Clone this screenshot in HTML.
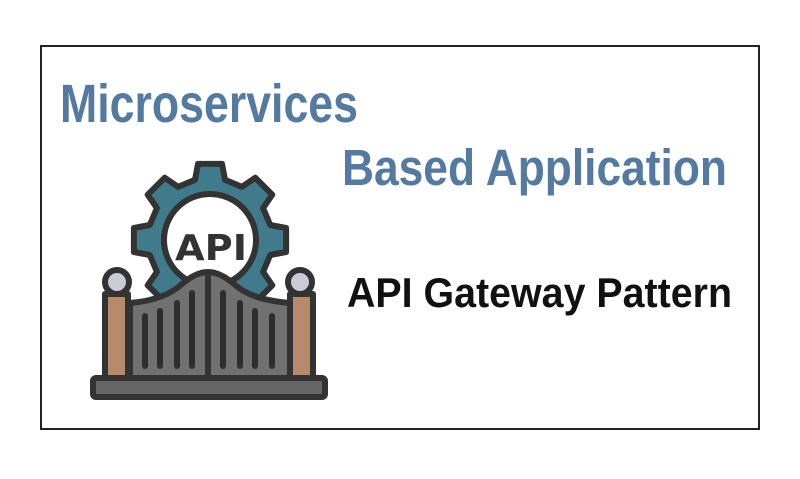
<!DOCTYPE html>
<html><head><style>
html,body{margin:0;padding:0;background:#fff;width:800px;height:479px;overflow:hidden}
</style></head><body>
<svg width="800" height="479" viewBox="0 0 800 479" xmlns="http://www.w3.org/2000/svg">
<rect x="41" y="46" width="718" height="383" fill="#fff" stroke="#222" stroke-width="2"/>
<text x="60" y="122" font-family="Liberation Sans, sans-serif" font-weight="bold" font-size="54" fill="#557aa0" textLength="298" lengthAdjust="spacingAndGlyphs">Microservices</text>
<text x="342" y="185" font-family="Liberation Sans, sans-serif" font-weight="bold" font-size="51" fill="#557aa0" textLength="385" lengthAdjust="spacingAndGlyphs">Based Application</text>
<text x="347" y="307" font-family="Liberation Sans, sans-serif" font-weight="bold" font-size="42" fill="#111" textLength="385" lengthAdjust="spacingAndGlyphs">API Gateway Pattern</text>
<g stroke="#333" stroke-width="6" stroke-linejoin="round" stroke-linecap="round">
<polygon id="gear" fill="#3f7b8a" points=""/>
<circle cx="210" cy="240" r="46" fill="#fff"/>
<circle cx="117" cy="282" r="12" fill="#c9ccd6"/>
<circle cx="300" cy="282" r="12" fill="#c9ccd6"/>
<rect x="105" y="294" width="23" height="84" fill="#b88a6c"/>
<rect x="290" y="294" width="23" height="84" fill="#b88a6c"/>
<path d="M130 303 Q165 300 182 284 Q196 272 208 272 Q220 272 234 284 Q251 300 290 303 L290 378 L130 378 Z" fill="#717171"/>
<line x1="208" y1="274" x2="208" y2="378"/>
<rect x="93" y="378" width="232" height="19" rx="3" fill="#666"/>
</g>
<g stroke="#2e2e2e" stroke-width="6" stroke-linecap="round">
<line x1="145" y1="316" x2="145" y2="366"/><line x1="160" y1="311" x2="160" y2="366"/>
<line x1="177" y1="303" x2="177" y2="366"/><line x1="192" y1="293" x2="192" y2="366"/>
<line x1="223" y1="293" x2="223" y2="366"/><line x1="240" y1="303" x2="240" y2="366"/>
<line x1="255" y1="311" x2="255" y2="366"/><line x1="272" y1="316" x2="272" y2="366"/>
</g>
<text x="211" y="260" text-anchor="middle" font-family="DejaVu Sans, sans-serif" font-weight="bold" font-size="36" fill="#333" textLength="72" lengthAdjust="spacingAndGlyphs">API</text>
</svg>
<script>
(function(){var cx=210,cy=240,pts=[];for(var k=0;k<8;k++){var t=k*Math.PI/4;
[[-14,62],[-9,77],[9,77],[14,62]].forEach(function(p){var a=t+p[0]*Math.PI/180;pts.push((cx+p[1]*Math.sin(a)).toFixed(1)+','+(cy-p[1]*Math.cos(a)).toFixed(1));});}
document.getElementById('gear').setAttribute('points',pts.join(' '));})();
</script>
</body></html>
